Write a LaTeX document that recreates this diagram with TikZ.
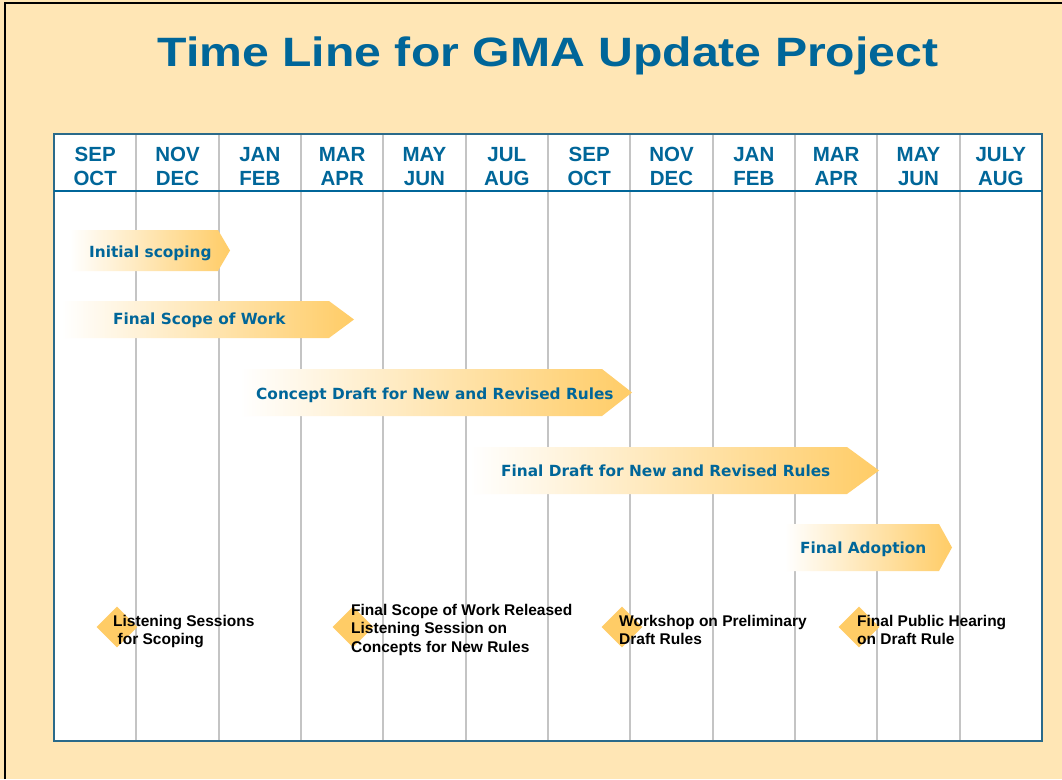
\documentclass[tikz,border=0pt]{standalone}
\usepackage{fontspec}
\setmainfont{Liberation Sans}
\newfontfamily\barfont{DejaVu Sans}
\usetikzlibrary{shapes.geometric}

\definecolor{cream}{HTML}{FFE6B5}
\definecolor{gmablue}{HTML}{006699}
\definecolor{framebl}{HTML}{2A6A8A}
\definecolor{barorange}{HTML}{FFCC66}
\definecolor{gridgray}{HTML}{C4C4C4}

\begin{document}
\begin{tikzpicture}[x=1pt,y=-1pt,
  month/.style={font=\fontsize{20.5}{24}\selectfont\bfseries, text=gmablue, anchor=base, inner sep=0},
  bartext/.style={font=\barfont\fontsize{15.35}{18}\selectfont\bfseries, text=gmablue, anchor=base west, inner sep=0},
  milestone/.style={diamond, fill=barorange, minimum width=41pt, minimum height=41pt, inner sep=0},
  note/.style={font=\fontsize{15.5}{18.5}\selectfont\bfseries, align=left, anchor=north west, inner sep=0},
  gridline/.style={gridgray, line width=2pt},
  barshape/.style={left color=white, right color=barorange},
]
\useasboundingbox (0,0) rectangle (1062,779);

% page background and its frame (left and top edges)
\fill[cream] (0,0) rectangle (1062,779);
\draw[black, line width=2.5pt] (5,779) -- (5,3) -- (1062,3);

% title
\node[font=\fontsize{41}{48}\selectfont\bfseries, text=gmablue, anchor=base, inner sep=0]
  (title) at (548,66) {\scalebox{1.175}[1]{Time Line for GMA Update Project}};

% timeline table
\fill[white] (54,134) rectangle (1042,741);
\foreach \i in {1,...,11}
  \draw[gridline] ({54+82.333*\i},134) -- ({54+82.333*\i},741);
\draw[framebl, line width=2pt] (54,134) rectangle (1042,741);
\draw[gmablue, line width=2.5pt] (54,191) -- (1042,191);

% two-month column headings
\foreach \top/\bot [count=\c] in {SEP/OCT, NOV/DEC, JAN/FEB, MAR/APR, MAY/JUN, JUL/AUG,
                                  SEP/OCT, NOV/DEC, JAN/FEB, MAR/APR, MAY/JUN, JULY/AUG} {
  \node[month] (mt\c) at ({54+82.333*(\c-0.5)},161) {\top};
  \node[month] (mb\c) at ({54+82.333*(\c-0.5)},185.5) {\bot};
}

% phase bars: left, body end, tip, top, bottom
\newcommand\phasebar[6]{%
  \shade[barshape] (#1,#4) -- (#2,#4) -- (#3,{(#4+#5)/2}) -- (#2,#5) -- (#1,#5) -- cycle;
  \coordinate (#6) at (#3,{(#4+#5)/2});
}
\phasebar{70}{218}{230}{230}{271}{b1end}
\phasebar{62}{329}{354}{301}{338}{b2end}
\phasebar{240}{602}{632}{369}{416}{b3end}
\phasebar{470}{847}{879}{447}{494}{b4end}
\phasebar{785}{939}{952}{524}{571}{b5end}

\node[bartext] (b1) at (89,257) {Initial scoping};
\node[bartext] (b2) at (113,324.5) {Final Scope of Work};
\node[bartext] (b3) at (256,399) {Concept Draft for New and Revised Rules};
\node[bartext] (b4) at (501,476) {Final Draft for New and Revised Rules};
\node[bartext] (b5) at (800,553.5) {Final Adoption};

% milestones
\node[milestone] (d1) at (117,627) {};
\node[milestone] (d2) at (353,627) {};
\node[milestone] (d3) at (622,627) {};
\node[milestone] (d4) at (859,627) {};

\node[note] (n1) at (113,615) {Listening Sessions\\\hspace{4.5pt}for Scoping};
\node[note] (n2) at (351,604) {Final Scope of Work Released\\Listening Session on\\Concepts for New Rules};
\node[note] (n3) at (619,615) {Workshop on Preliminary\\Draft Rules};
\node[note] (n4) at (857,615) {Final Public Hearing\\on Draft Rule};
\end{tikzpicture}
\end{document}
